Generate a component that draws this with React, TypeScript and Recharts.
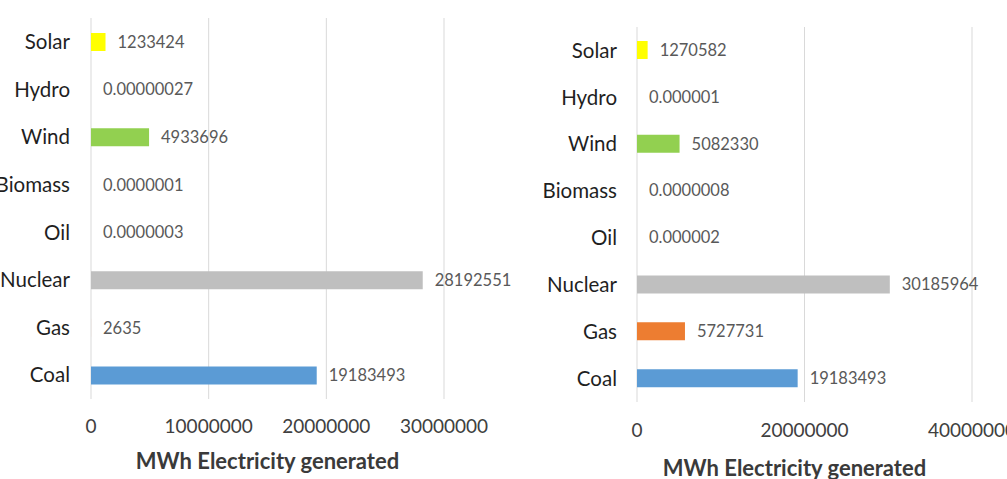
import React from 'react';
import { BarChart, Bar, XAxis, YAxis, CartesianGrid, Cell, LabelList, Label } from 'recharts';

const categories = ['Solar', 'Hydro', 'Wind', 'Biomass', 'Oil', 'Nuclear', 'Gas', 'Coal'];
const leftValues = [1233424, 0.00000027, 4933696, 0.0000001, 0.0000003, 28192551, 2635, 19183493];
const rightValues = [1270582, 0.000001, 5082330, 0.0000008, 0.000002, 30185964, 5727731, 19183493];
const barColors = ['#FFFF00', '#4472C4', '#92D050', '#70AD47', '#000000', '#BFBFBF', '#ED7D31', '#5B9BD5'];
const leftTicks = [0, 10000000, 20000000, 30000000];
const rightTicks = [0, 20000000, 40000000];
const axisTitle = 'MWh Electricity generated';

const FONT = 'Lato, "Open Sans", sans-serif';

const fmt = (v: any) =>
  Number(v).toLocaleString('en-US', { useGrouping: false, maximumSignificantDigits: 15 });

const build = (vals: number[]) => categories.map((c, i) => ({ name: c, value: vals[i] }));

const Title = (shift: number, baseOff: number) => (props: any) => {
  const vb = props.viewBox || {};
  return (
    <text
      x={vb.x + vb.width / 2 + shift}
      y={vb.y + vb.height - baseOff}
      textAnchor="middle"
      fill="#3A3A3A"
      fontFamily={FONT}
      fontWeight={700}
      fontSize={22}
    >
      {axisTitle}
    </text>
  );
};

type PanelProps = {
  vals: number[];
  ticks: number[];
  width: number;
  height: number;
  left: number;
  yWidth: number;
  marginTop: number;
  marginRight: number;
  xHeight: number;
  tickMargin: number;
  yTickMargin: number;
  titleShift: number;
  titleBase: number;
};

const Panel = (p: PanelProps) => (
  <div style={{ position: 'absolute', left: p.left, top: 0 }}>
    <BarChart
      width={p.width}
      height={p.height}
      data={build(p.vals)}
      layout="vertical"
      margin={{ top: p.marginTop, right: p.marginRight, left: 0, bottom: 0 }}
      barCategoryGap={0}
    >
      <CartesianGrid horizontal={false} stroke="#D9D9D9" />
      <XAxis
        type="number"
        domain={[p.ticks[0], p.ticks[p.ticks.length - 1]]}
        ticks={p.ticks}
        axisLine={false}
        tickLine={false}
        tickSize={0}
        tickMargin={p.tickMargin}
        height={p.xHeight}
        interval={0}
        tickFormatter={(v: any) => fmt(v)}
        tick={{ fill: '#404040', fontSize: 19, fontFamily: FONT }}
      >
        <Label content={Title(p.titleShift, p.titleBase)} position="insideBottom" />
      </XAxis>
      <YAxis
        type="category"
        dataKey="name"
        width={p.yWidth}
        axisLine={false}
        tickLine={false}
        tickSize={0}
        tickMargin={p.yTickMargin}
        interval={0}
        tick={{ fill: '#1F1F1F', fontSize: 20.5, fontFamily: FONT }}
      />
      <Bar dataKey="value" barSize={18} isAnimationActive={false}>
        {categories.map((c, i) => (
          <Cell key={c} fill={barColors[i]} />
        ))}
        <LabelList
          dataKey="value"
          position="right"
          offset={12}
          formatter={fmt}
          fill="#595959"
          fontSize={16.5}
          fontFamily={FONT}
        />
      </Bar>
    </BarChart>
  </div>
);

export default function App() {
  return (
    <div style={{ position: 'absolute', left: 0, top: 0, width: 1007, height: 479, background: '#fff', overflow: 'hidden' }}>
      <Panel
        vals={leftValues}
        ticks={leftTicks}
        width={520}
        height={479}
        left={0}
        yWidth={91}
        marginTop={18}
        marginRight={76}
        xHeight={80}
        tickMargin={21}
        yTickMargin={21}
        titleShift={0}
        titleBase={10}
      />
      <Panel
        vals={rightValues}
        ticks={rightTicks}
        width={497}
        height={479}
        left={510}
        yWidth={127}
        marginTop={27}
        marginRight={35}
        xHeight={77}
        tickMargin={22}
        yTickMargin={20}
        titleShift={-10}
        titleBase={3}
      />
    </div>
  );
}
